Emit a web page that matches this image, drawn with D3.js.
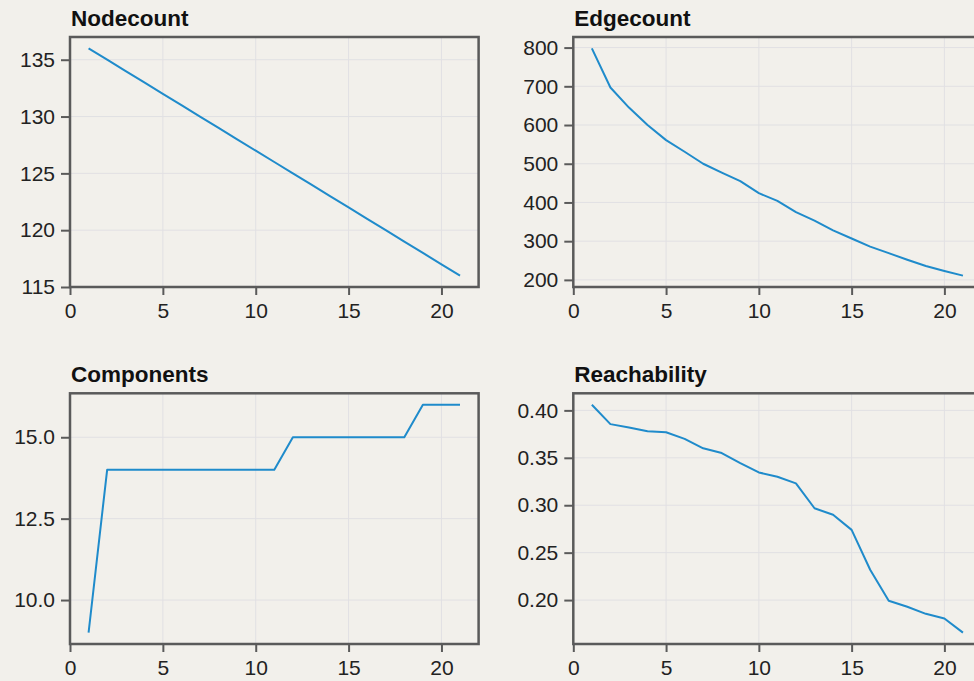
<!DOCTYPE html>
<html>
<head>
<meta charset="utf-8">
<script src="https://cdn.jsdelivr.net/npm/d3@7"></script>
<style>
  html, body { margin: 0; padding: 0; background: #f2f0eb; overflow: hidden; }
  svg { display: block; }
  text { font-family: "Liberation Sans", Arial, Helvetica, sans-serif; }
</style>
</head>
<body>
<svg id="chart" width="974" height="681"></svg>
<script>
const steps = d3.range(1, 22);
const nodecount = [136,135,134,133,132,131,130,129,128,127,126,125,124,123,122,121,120,119,118,117,116];
const edgecount = [798,697,645,600,561,531,500,477,455,424,404,375,353,328,307,286,269,252,236,223,211];
const components = [9,14,14,14,14,14,14,14,14,14,14,15,15,15,15,15,15,15,16,16,16];
const reachability = [0.406,0.3855,0.382,0.378,0.377,0.370,0.360,0.355,0.3445,0.3346,0.330,0.323,0.2968,0.290,0.274,0.232,0.1993,0.193,0.1855,0.1806,0.1657];
const xTicks = [0, 5, 10, 15, 20];
const nodeTicks = [115, 120, 125, 130, 135];
const edgeTicks = [200, 300, 400, 500, 600, 700, 800];
const compTicks = [10.0, 12.5, 15.0];
const reachTicks = [0.20, 0.25, 0.30, 0.35, 0.40];

const panels = [
  {title: "Nodecount", values: nodecount, ticks: nodeTicks, fmt: d3.format("d"), left: 70, top: 37, width: 408.6, height: 250},
  {title: "Edgecount", values: edgecount, ticks: edgeTicks, fmt: d3.format("d"), left: 573.3, top: 37, width: 408.2, height: 250},
  {title: "Components", values: components, ticks: compTicks, fmt: d3.format(".1f"), left: 70, top: 393.3, width: 408.6, height: 250.7},
  {title: "Reachability", values: reachability, ticks: reachTicks, fmt: d3.format(".2f"), left: 573.3, top: 393.3, width: 408.2, height: 250.7}
];

const svg = d3.select("#chart");
svg.append("rect").attr("width", 974).attr("height", 681).attr("fill", "#f2f0eb");

const spineColor = "#5a5a5a";
const lineColor = "#1f8bcb";
const gridColor = "#e1e0e3";

panels.forEach(p => {
  const ext = d3.extent(p.values);
  const pad = (ext[1] - ext[0]) * 0.05;
  const x = d3.scaleLinear().domain([0, 22]).range([p.left, p.left + p.width]);
  const y = d3.scaleLinear().domain([ext[0] - pad, ext[1] + pad]).range([p.top + p.height, p.top]);
  const g = svg.append("g");

  // grid
  g.append("g").selectAll("line.vx").data(xTicks).join("line")
    .attr("x1", d => x(d)).attr("x2", d => x(d))
    .attr("y1", p.top).attr("y2", p.top + p.height)
    .attr("stroke", gridColor).attr("stroke-width", 1);
  g.append("g").selectAll("line.hy").data(p.ticks).join("line")
    .attr("x1", p.left).attr("x2", p.left + p.width)
    .attr("y1", d => y(d)).attr("y2", d => y(d))
    .attr("stroke", gridColor).attr("stroke-width", 1);

  // data line
  const line = d3.line().x((d, i) => x(steps[i])).y(d => y(d));
  g.append("path").datum(p.values)
    .attr("d", line)
    .attr("fill", "none")
    .attr("stroke", lineColor)
    .attr("stroke-width", 2)
    .attr("stroke-linejoin", "round");

  // axes
  const xAxis = d3.axisBottom(x).tickValues(xTicks).tickSize(8).tickPadding(8).tickFormat(d3.format("d"));
  const yAxis = d3.axisLeft(y).tickValues(p.ticks).tickSize(9).tickPadding(6).tickFormat(p.fmt);

  const xg = g.append("g").attr("transform", `translate(0,${p.top + p.height})`).call(xAxis);
  const yg = g.append("g").attr("transform", `translate(${p.left},0)`).call(yAxis);
  [xg, yg].forEach(a => {
    a.select(".domain").remove();
    a.selectAll(".tick line").attr("stroke", spineColor).attr("stroke-width", 2);
    a.selectAll(".tick text").attr("fill", "#222").style("font-size", "21px")
      .style("font-family", '"Liberation Sans", Arial, Helvetica, sans-serif');
  });

  // spines (box)
  g.append("rect")
    .attr("x", p.left).attr("y", p.top)
    .attr("width", p.width).attr("height", p.height)
    .attr("fill", "none").attr("stroke", spineColor).attr("stroke-width", 2.5);

  // title
  g.append("text")
    .attr("x", p.left + 1).attr("y", p.top - 11)
    .attr("fill", "#111")
    .style("font-size", "22.5px").style("font-weight", "bold")
    .text(p.title);
});
</script>
</body>
</html>
